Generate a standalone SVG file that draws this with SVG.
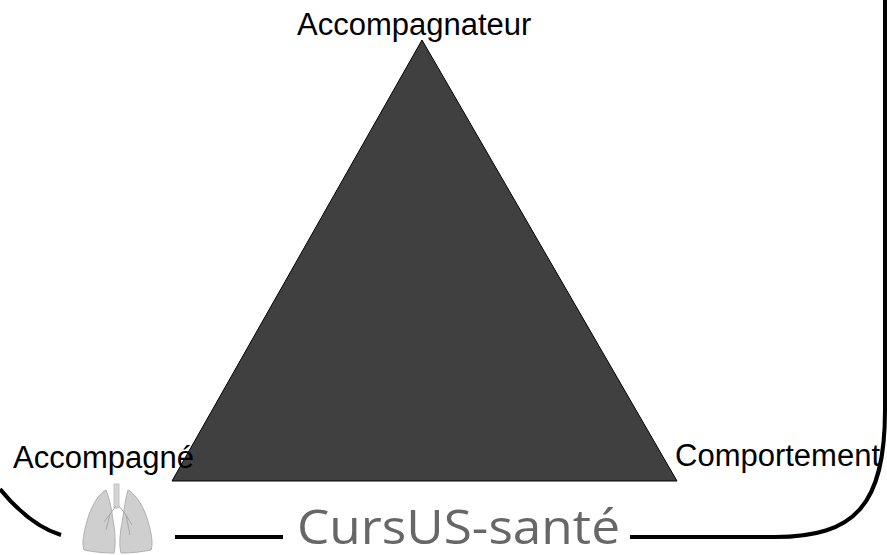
<svg xmlns="http://www.w3.org/2000/svg" width="887" height="555" viewBox="0 0 887 555">
  <style>
    .lbl { font-family: "Liberation Sans", Arial, sans-serif; font-size: 31px; fill: #000; }
    .frame { fill: none; stroke: #000; stroke-width: 4; }
    .lung { fill: #cfcfcf; stroke: #b0b0b0; stroke-width: 1; }
    .brand { font-family: "Open Sans", "Lato", sans-serif; font-size: 47px; fill: #676767; }
  </style>
  <rect width="887" height="555" fill="#fff"/>
  <g id="triangle">
    <polygon points="422,40 172,481 677,481" fill="#404040" stroke="#000" stroke-width="1"/>
  </g>
  <g id="node-accompagnateur">
    <text class="lbl" x="297" y="35">Accompagnateur</text>
  </g>
  <g id="node-accompagne">
    <text class="lbl" x="13" y="468">Accompagné</text>
  </g>
  <g id="node-comportement">
    <text class="lbl" x="675" y="466">Comportement</text>
  </g>
  <g id="connectors">
    <path class="frame" d="M885,0 L885,410 C885,505 855,537 775,537 L630,537"/>
    <path class="frame" d="M175,537 L283,537"/>
    <path class="frame" d="M0,489 C18,511 38,528 61,535"/>
  </g>
  <g id="logo">
    <rect x="114" y="484" width="5" height="24" fill="#d4d4d4" stroke="#b8b8b8" stroke-width="0.8"/>
    <path class="lung" d="M106,490 C98,494 90,508 86,525 C83,536 82,545 84,550 C94,552 104,553 114,553 C116,545 115,530 113,520 C112,512 110,500 106,490 Z"/>
    <path class="lung" d="M128,490 C136,494 145,508 149,525 C152,536 153,545 151,550 C141,552 131,553 121,553 C119,545 120,536 121,528 C123,520 124,505 128,490 Z"/>
    <path d="M116,506 L110,514 L104,522 M110,514 L106,530 M119,506 L126,515 L132,525 M126,515 L130,535" fill="none" stroke="#a8a8a8" stroke-width="1"/>
  </g>
  <g id="brand">
    <text class="brand" x="297" y="544" textLength="323" lengthAdjust="spacingAndGlyphs">CursUS-santé</text>
  </g>
</svg>
